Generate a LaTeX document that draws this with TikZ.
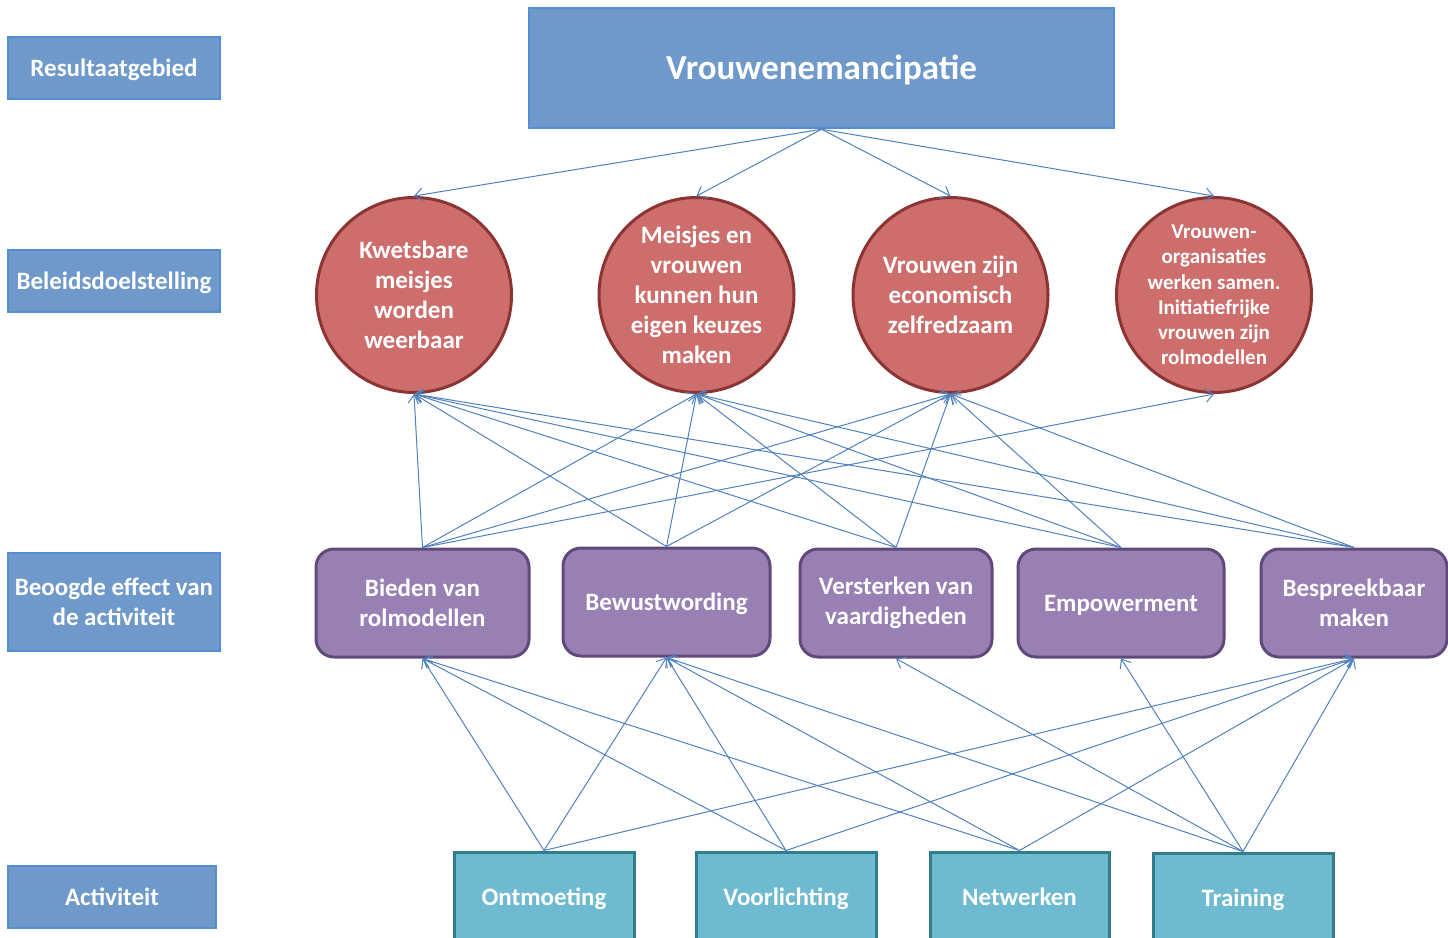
\documentclass[tikz,border=0pt]{standalone}
\usepackage{fontspec}
\setmainfont{Carlito}
\usetikzlibrary{arrows.meta}
\definecolor{lblfill}{RGB}{110,153,202}
\definecolor{lbldraw}{RGB}{84,141,212}
\definecolor{circfill}{RGB}{205,110,108}
\definecolor{circdraw}{RGB}{140,52,52}
\definecolor{purfill}{RGB}{152,128,180}
\definecolor{purdraw}{RGB}{96,74,123}
\definecolor{tealfill}{RGB}{110,186,208}
\definecolor{tealdraw}{RGB}{49,125,140}
\definecolor{conn}{RGB}{79,129,189}
\begin{document}
\begin{tikzpicture}[x=1pt,y=-1pt,
  txt/.style={text=white, align=center, inner sep=0pt, font=\bfseries\fontsize{25}{30}\selectfont},
  oneline/.style={text height=20pt, text depth=3pt},
  lbl/.style={txt, draw=lbldraw, fill=lblfill, line width=2.5pt},
  topbox/.style={txt, draw=lbldraw, fill=lblfill, line width=2.5pt, font=\bfseries\fontsize{35}{40}\selectfont, text height=28pt, text depth=5pt},
  goal/.style={txt, circle, draw=circdraw, fill=circfill, line width=3pt, minimum size=195pt},
  effect/.style={txt, rectangle, rounded corners=18pt, draw=purdraw, fill=purfill, line width=3pt, minimum height=108pt},
  act/.style={txt, oneline, rectangle, draw=tealdraw, fill=tealfill, line width=3pt, minimum height=90pt, minimum width=180pt},
  link/.style={draw=conn, line width=1pt, -{Straight Barb[length=8pt,width=13pt,line width=1pt]}}
]
\useasboundingbox (0,0) rectangle (1448,937);
\clip (0,0) rectangle (1448,937);

% left labels
\node[lbl, oneline, minimum width=212pt, minimum height=62pt] (l1) at (114,68) {Resultaatgebied};
\node[lbl, oneline, minimum width=212pt, minimum height=62pt] (l2) at (114,281) {Beleidsdoelstelling};
\node[lbl, minimum width=212pt, minimum height=98pt] (l3) at (114,602) {Beoogde effect van\\de activiteit};
\node[lbl, oneline, minimum width=208pt, minimum height=62pt] (l4) at (112,897) {Activiteit};

% top
\node[topbox, minimum width=585pt, minimum height=120pt] (top) at (821.5,68) {Vrouwenemancipatie};

% goals
\node[goal] (c1) at (414,295) {Kwetsbare\\meisjes\\worden\\weerbaar};
\node[goal] (c2) at (696.5,295) {Meisjes en\\vrouwen\\kunnen hun\\eigen keuzes\\maken};
\node[goal] (c3) at (950.5,295) {Vrouwen zijn\\economisch\\zelfredzaam};
\node[goal, font=\bfseries\fontsize{21}{25.2}\selectfont] (c4) at (1214,295) {Vrouwen-\\organisaties\\werken samen.\\Initiatiefrijke\\vrouwen zijn\\rolmodellen};

% effects
\node[effect, minimum width=213pt] (p1) at (422.5,603) {Bieden van\\rolmodellen};
\node[effect, oneline, minimum width=207pt] (p2) at (666.5,602) {Bewustwording};
\node[effect, minimum width=192pt] (p3) at (896,603) {Versterken van\\vaardigheden};
\node[effect, oneline, minimum width=206pt] (p4) at (1121,603) {Empowerment};
\node[effect, minimum width=186pt] (p5) at (1354,603) {Bespreekbaar\\maken};

% activities
\node[act] (t1) at (544,897) {Ontmoeting};
\node[act] (t2) at (786,897) {Voorlichting};
\node[act, minimum width=179pt] (t3) at (1019.5,897) {Netwerken};
\node[act] (t4) at (1243,898) {Training};

% top -> goals
\foreach \c in {c1,c2,c3,c4}
  \draw[link] (top.south) -- (\c.north);

% effects -> goals
\foreach \p/\c in {p1/c1,p1/c2,p1/c3,p1/c4,
                   p2/c1,p2/c2,p2/c3,
                   p3/c1,p3/c2,p3/c3,
                   p4/c1,p4/c2,p4/c3,
                   p5/c1,p5/c2,p5/c3}
  \draw[link] (\p.north) -- (\c.south);

% activities -> effects
\foreach \t/\p in {t1/p1,t1/p2,t1/p5,
                   t2/p1,t2/p2,t2/p5,
                   t3/p1,t3/p2,t3/p5,
                   t4/p2,t4/p3,t4/p4,t4/p5}
  \draw[link] (\t.north) -- (\p.south);
\end{tikzpicture}
\end{document}
